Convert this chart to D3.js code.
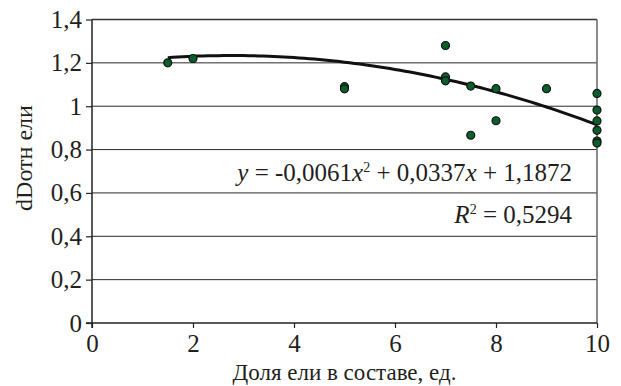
<!DOCTYPE html>
<html>
<head>
<meta charset="utf-8">
<script src="https://cdn.jsdelivr.net/npm/d3@7"></script>
<style>
  html, body { margin: 0; padding: 0; background: #fff; }
</style>
</head>
<body>
<svg id="chart" width="621" height="386"></svg>
<script>
// Spruce share (units) vs relative dD
const shareX = [1.5, 2, 5, 5, 7, 7, 7, 7.5, 7.5, 8, 8, 9, 10, 10, 10, 10, 10, 10];
const dDrel  = [1.20, 1.22, 1.09, 1.08, 1.28, 1.135, 1.117, 1.093, 0.866, 1.081, 0.933, 1.081, 1.059, 0.982, 0.932, 0.889, 0.839, 0.83];
const xTicks = [0, 2, 4, 6, 8, 10];
const yTicks = [0, 0.2, 0.4, 0.6, 0.8, 1, 1.2, 1.4];
// quadratic trend coefficients (a x^2 + b x + c)
const trendCoef = [-0.0061, 0.0337, 1.1872];
const rSquared = 0.5294;

const SERIF = "'Liberation Serif', 'Times New Roman', 'DejaVu Serif', serif";
const INK = "#231f20";
const svg = d3.select("#chart");
const m = { left: 92, right: 597, top: 19.5, bottom: 323 };

const x = d3.scaleLinear().domain([0, 10]).range([m.left, m.right]);
const y = d3.scaleLinear().domain([0, 1.4]).range([m.bottom, m.top]);
const comma = d => String(d).replace(".", ",");

// horizontal gridlines
svg.append("g").selectAll("line").data(yTicks.filter(d => d > 0 && d < 1.4)).join("line")
  .attr("x1", m.left).attr("x2", m.right)
  .attr("y1", d => y(d)).attr("y2", d => y(d))
  .attr("stroke", "#2a2a2a").attr("stroke-width", 1);

// frame: top and right
svg.append("line").attr("x1", m.left).attr("x2", m.right).attr("y1", y(1.4)).attr("y2", y(1.4))
  .attr("stroke", "#333").attr("stroke-width", 1.5);
svg.append("line").attr("x1", x(10)).attr("x2", x(10)).attr("y1", y(1.4)).attr("y2", y(0))
  .attr("stroke", "#666").attr("stroke-width", 1.5);

// axes
const xAxis = d3.axisBottom(x).tickValues(xTicks).tickSize(5).tickPadding(6).tickFormat(comma);
const yAxis = d3.axisLeft(y).tickValues(yTicks).tickSize(6).tickPadding(4).tickFormat(comma);

const gx = svg.append("g").attr("transform", `translate(0,${m.bottom})`).call(xAxis);
const gy = svg.append("g").attr("transform", `translate(${m.left},0)`).call(yAxis);
[gx, gy].forEach(g => {
  g.attr("font-family", SERIF).attr("font-size", 25);
  g.select(".domain").attr("stroke", "#222").attr("stroke-width", 1.5);
  g.selectAll(".tick line").attr("stroke", "#222").attr("stroke-width", 1.2);
  g.selectAll(".tick text").attr("fill", INK);
});
gx.select(".domain").attr("d", `M${m.left - 6},0H${m.right}`);
gy.select(".domain").attr("d", `M0,${m.top}V${m.bottom + 5}`);

// trend curve
const trend = d3.range(1.5, 10.0001, 0.1).map(v => [v, trendCoef[0] * v * v + trendCoef[1] * v + trendCoef[2]]);
svg.append("path").datum(trend)
  .attr("d", d3.line().x(d => x(d[0])).y(d => y(d[1])))
  .attr("fill", "none").attr("stroke", "#111").attr("stroke-width", 3);

// observations
svg.append("g").selectAll("circle").data(shareX.map((v, i) => [v, dDrel[i]])).join("circle")
  .attr("cx", d => x(d[0])).attr("cy", d => y(d[1])).attr("r", 4)
  .attr("fill", "#0b5e2a").attr("stroke", "#111").attr("stroke-width", 1.2);

// equation and R²
const eq = svg.append("text").attr("x", 572).attr("y", 181).attr("text-anchor", "end")
  .attr("fill", INK).attr("font-family", SERIF).attr("font-size", 25);
eq.append("tspan").attr("font-style", "italic").text("y");
eq.append("tspan").text(" = -0,0061");
eq.append("tspan").attr("font-style", "italic").text("x");
eq.append("tspan").attr("dy", -9).attr("font-size", 14).text("2");
eq.append("tspan").attr("dy", 9).text(" + 0,0337");
eq.append("tspan").attr("font-style", "italic").text("x");
eq.append("tspan").text(" + " + comma(trendCoef[2]));

const r2 = svg.append("text").attr("x", 572).attr("y", 223).attr("text-anchor", "end")
  .attr("fill", INK).attr("font-family", SERIF).attr("font-size", 25);
r2.append("tspan").attr("font-style", "italic").text("R");
r2.append("tspan").attr("dy", -9).attr("font-size", 14).text("2");
r2.append("tspan").attr("dy", 9).text(" = " + comma(rSquared));

// axis titles
svg.append("text").attr("x", (m.left + m.right) / 2).attr("y", 380).attr("text-anchor", "middle")
  .attr("fill", INK).attr("font-family", SERIF).attr("font-size", 23).text("Доля ели в составе, ед.");
svg.append("text").attr("transform", "translate(32,158) rotate(-90)").attr("text-anchor", "middle")
  .attr("fill", INK).attr("font-family", SERIF).attr("font-size", 24).text("dDотн ели");
</script>
</body>
</html>
